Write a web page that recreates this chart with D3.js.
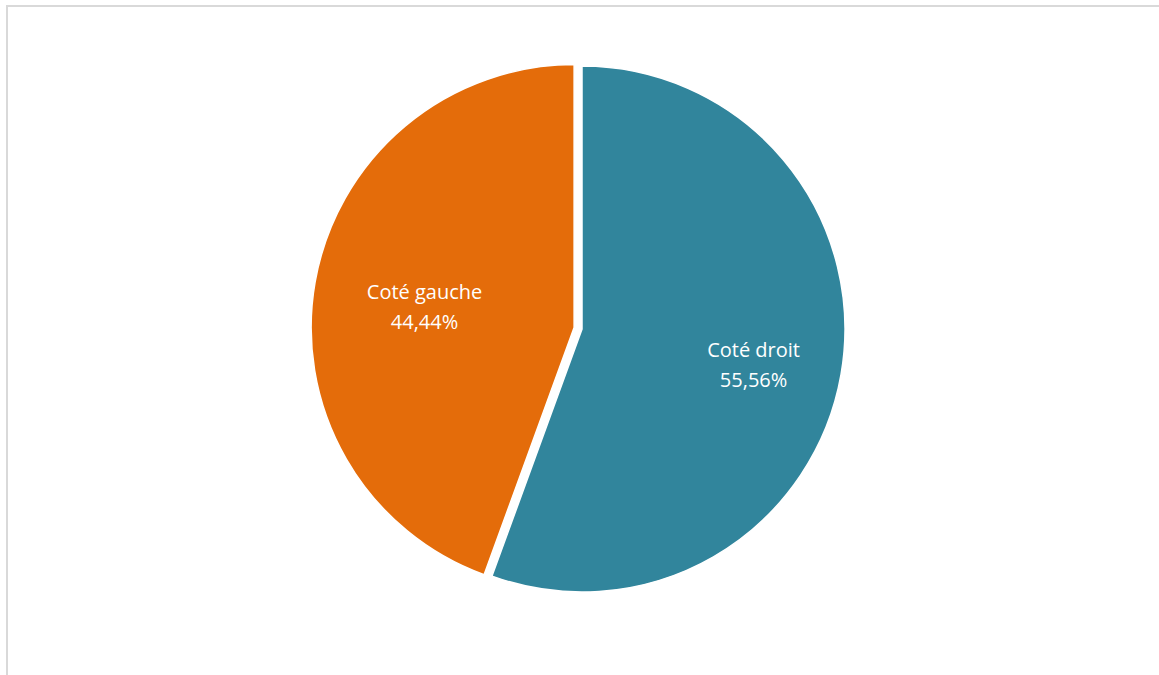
<!DOCTYPE html>
<html>
<head>
<meta charset="utf-8">
<script src="https://cdn.jsdelivr.net/npm/d3@7.9.0/dist/d3.min.js"></script>
<style>
  body { margin: 0; background: #fff; }
  svg { display: block; }
</style>
</head>
<body>
<svg id="chart" width="1159" height="675"></svg>
<script>
const labels = ['Coté droit', 'Coté gauche'];
const values = [55.56, 44.44];
const colors = ['#31859C', '#E46C0A'];
const exploded = [0, 8];

const svg = d3.select('#chart');

// chart frame (only top and left edges fall inside the window)
svg.append('rect')
  .attr('x', 7).attr('y', 6)
  .attr('width', 1170).attr('height', 700)
  .attr('fill', 'none')
  .attr('stroke', '#d9d9d9')
  .attr('stroke-width', 2);

const cx = 582, cy = 329, radius = 263;

const data = labels.map((label, i) => ({ label, value: values[i], color: colors[i], offset: exploded[i] }));

const pie = d3.pie().value((d) => d.value).sort(null);
const arc = d3.arc().innerRadius(0).outerRadius(radius);
const labelArc = d3.arc().innerRadius(radius * 0.62).outerRadius(radius * 0.62);

const g = svg.append('g').attr('transform', `translate(${cx},${cy})`);

const fmt = (v) => v.toFixed(2).replace('.', ',') + '%';

pie(data).forEach((d) => {
  const mid = (d.startAngle + d.endAngle) / 2;
  const ox = Math.sin(mid) * d.data.offset;
  const oy = -Math.cos(mid) * d.data.offset;
  const slice = g.append('g').attr('transform', `translate(${ox},${oy})`);

  slice.append('path')
    .attr('d', arc(d))
    .attr('fill', d.data.color)
    .attr('stroke', '#fff')
    .attr('stroke-width', 1.5);

  const [lx, ly] = labelArc.centroid(d);
  const tx = lx + 11;
  const text = slice.append('text')
    .attr('x', tx)
    .attr('y', ly + 4)
    .attr('text-anchor', 'middle')
    .attr('fill', '#fff')
    .attr('font-family', '"Open Sans", "Noto Sans", sans-serif')
    .attr('font-size', 20);
  text.append('tspan').attr('x', tx).attr('dy', '-0.2em').text(d.data.label);
  text.append('tspan').attr('x', tx).attr('dy', '1.5em').text(fmt(d.data.value));
});
</script>
</body>
</html>
